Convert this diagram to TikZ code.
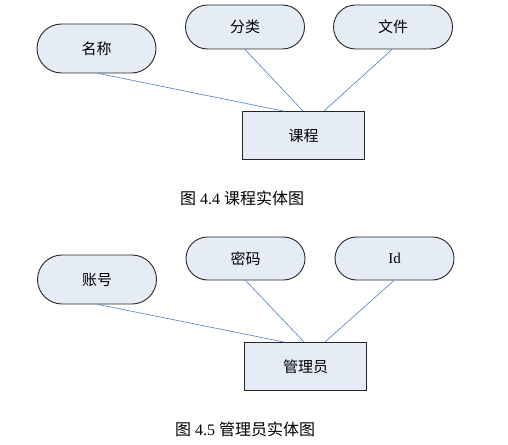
\documentclass[tikz,border=0pt]{standalone}
\usepackage{fontspec}
\usetikzlibrary{shapes.misc}
\setmainfont{Liberation Serif}
\newfontfamily\cjk{Noto Sans CJK SC}
\definecolor{fillb}{HTML}{E6ECF6}
\definecolor{lineb}{HTML}{4A7EC8}
\begin{document}
\begin{tikzpicture}[x=1pt,y=-1pt,
  attr/.style={draw=black!85,line width=0.9pt,fill=fillb,rounded rectangle,minimum width=119pt,minimum height=44pt,inner sep=0pt,font=\cjk\fontsize{15}{15}\selectfont},
  ent/.style={draw=black!85,line width=1pt,fill=fillb,minimum width=122pt,minimum height=48pt,inner sep=0pt,font=\cjk\fontsize{15}{15}\selectfont},
  link/.style={draw=lineb,line width=0.6pt},
  captxt/.style={font=\fontsize{16}{16}\selectfont}]
\useasboundingbox (0,0) rectangle (508,444);
% top diagram
\node[attr,minimum height=49pt] (mc) at (96.5,48.5) {名称};
\node[attr] (fl) at (245,27) {分类};
\node[attr] (wj) at (393,27) {文件};
\node[ent] (kc) at (303.5,135.5) {课程};
\draw[link] ([xshift=2pt]mc.south) -- ([xshift=-20.5pt]kc.north);
\draw[link] (fl.south) -- ([xshift=-0.5pt]kc.north);
\draw[link] ([xshift=-1pt]wj.south) -- ([xshift=20.5pt]kc.north);
\node[captxt] (c1) at (242,198) {{\cjk 图} 4.4 {\cjk 课程实体图}};
% bottom diagram
\node[attr,minimum height=49pt] (zh) at (97,279.5) {账号};
\node[attr,minimum height=43pt] (mm) at (245.5,258.5) {密码};
\node[attr,minimum height=43pt,font=\fontsize{15}{15}\selectfont] (id) at (394.5,258.5) {Id};
\node[ent] (gly) at (305.5,366.5) {管理员};
\draw[link] ([xshift=1pt]zh.south) -- ([xshift=-21.5pt]gly.north);
\draw[link] (mm.south) -- ([xshift=-1.5pt]gly.north);
\draw[link] ([xshift=-0.5pt]id.south) -- ([xshift=19.5pt]gly.north);
\node[captxt] (c2) at (245,429) {{\cjk 图} 4.5 {\cjk 管理员实体图}};
\end{tikzpicture}
\end{document}
